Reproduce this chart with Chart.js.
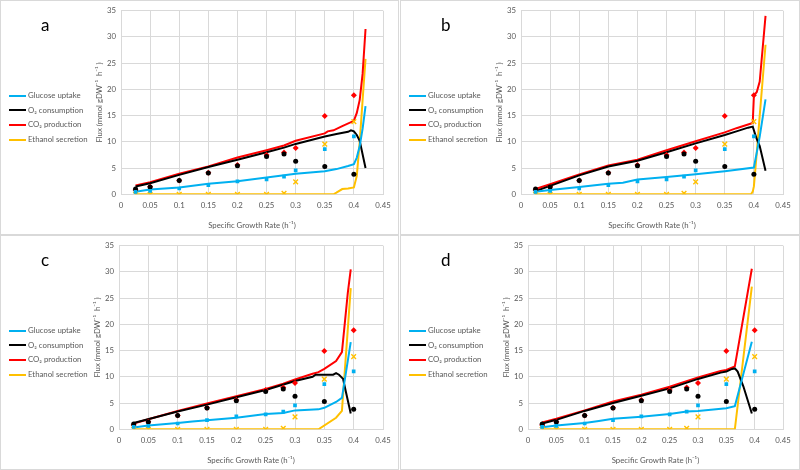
<!DOCTYPE html>
<html>
<head>
<meta charset="utf-8">
<script src="https://cdn.jsdelivr.net/npm/chart.js@4.4.1/dist/chart.umd.min.js"></script>
<style>
  html, body { margin: 0; padding: 0; background: #fff; }
  body { width: 800px; height: 470px; position: relative; overflow: hidden; font-family: Lato, "Open Sans", sans-serif; }
  .panel { position: absolute; box-sizing: border-box; border: 1px solid #d9d9d9; background: #fff; }
  .panel canvas { position: absolute; left: 0; top: 0; }
  .tag { position: absolute; left: 40px; top: 13px; font-size: 17px; color: #000; }
  .legend { position: absolute; left: 8px; font-size: 7.8px; color: #595959; }
  .legend div { position: relative; height: 14.7px; line-height: 14.7px; padding-left: 19px; white-space: nowrap; }
  .legend span { position: absolute; left: 0; top: 6.5px; width: 17px; height: 2px; }
</style>
</head>
<body>
<script>
// experimental values (same in every panel)
const expX       = [0.025, 0.05, 0.1, 0.15, 0.2, 0.25, 0.28, 0.3, 0.35, 0.4];
const expGlucose = [0.45, 0.65, 1.1, 1.75, 2.45, 2.85, 3.35, 4.55, 8.6, 11.05];
const expO2      = [1.0, 1.4, 2.65, 4.05, 5.45, 7.2, 7.7, 6.3, 5.3, 3.8];
const expCO2     = [0.8, 1.45, 2.65, 4.1, 5.6, 7.5, 7.95, 8.8, 14.9, 18.9];
const expEthanol = [0, 0, 0, 0, 0, 0, 0.2, 2.35, 9.55, 13.85];

// model curves, [growth rate, flux]
const aGlucose = [[0.025,0.5],[0.05,0.9],[0.1,1.3],[0.15,2.0],[0.2,2.5],[0.25,3.2],[0.3,3.9],[0.35,4.4],[0.37,4.8],[0.39,5.4],[0.4,5.75],[0.405,7.0],[0.41,9.2],[0.415,12.5],[0.42,16.8]];
const aO2      = [[0.025,1.5],[0.05,2.1],[0.1,3.7],[0.15,5.2],[0.2,6.6],[0.25,8.0],[0.28,8.9],[0.3,9.6],[0.35,11.0],[0.37,11.5],[0.39,11.9],[0.395,12.2],[0.4,12.0],[0.405,11.3],[0.41,10.2],[0.42,5.0]];
const aCO2     = [[0.025,1.7],[0.05,2.3],[0.1,3.9],[0.15,5.3],[0.2,7.0],[0.25,8.4],[0.28,9.3],[0.3,10.2],[0.35,11.6],[0.355,12.0],[0.365,12.2],[0.38,13.0],[0.4,14.0],[0.405,15.5],[0.41,18.0],[0.415,23.0],[0.42,31.5]];
const aEthanol = [[0.025,0],[0.365,0],[0.37,0.3],[0.38,1.0],[0.39,1.1],[0.4,1.3],[0.405,3.5],[0.41,10.0],[0.415,18.0],[0.42,25.8]];

const bGlucose = [[0.025,0.5],[0.05,0.8],[0.1,1.4],[0.15,2.0],[0.175,2.2],[0.2,2.8],[0.25,3.3],[0.3,3.8],[0.35,4.4],[0.4,5.1],[0.405,8.0],[0.41,11.0],[0.42,18.1]];
const bO2      = [[0.025,0.6],[0.05,1.6],[0.1,3.6],[0.15,5.3],[0.2,6.4],[0.25,8.0],[0.3,9.7],[0.35,11.3],[0.37,12.0],[0.39,12.7],[0.398,12.9],[0.4,12.2],[0.405,10.5],[0.41,9.2],[0.42,4.5]];
const bCO2     = [[0.025,1.0],[0.05,1.9],[0.1,3.8],[0.15,5.5],[0.2,6.6],[0.25,8.4],[0.3,10.1],[0.35,11.8],[0.37,12.6],[0.39,13.3],[0.398,13.6],[0.4,18.8],[0.405,19.5],[0.41,21.5],[0.42,34.0]];
const bEthanol = [[0.025,0],[0.395,0],[0.398,0.5],[0.4,1.5],[0.405,8.0],[0.41,15.0],[0.42,28.5]];

const cGlucose = [[0.025,0.35],[0.05,0.7],[0.1,1.2],[0.125,1.5],[0.15,1.7],[0.2,2.2],[0.25,2.9],[0.28,3.1],[0.3,3.6],[0.34,3.8],[0.35,4.1],[0.37,5.2],[0.38,6.0],[0.395,16.6]];
const cO2      = [[0.025,1.2],[0.1,3.4],[0.15,4.7],[0.2,6.1],[0.25,7.5],[0.3,9.2],[0.33,10.0],[0.335,10.4],[0.365,10.4],[0.37,10.7],[0.375,10.4],[0.382,9.6],[0.387,7.0],[0.395,3.0]];
const cCO2     = [[0.025,1.1],[0.05,1.9],[0.1,3.5],[0.15,4.9],[0.2,6.3],[0.25,7.7],[0.28,8.7],[0.3,9.5],[0.33,10.6],[0.34,10.9],[0.35,11.5],[0.37,13.0],[0.38,14.7],[0.39,26.0],[0.395,30.5]];
const cEthanol = [[0.025,0],[0.34,0],[0.37,2.2],[0.38,3.5],[0.395,26.9]];

const dGlucose = [[0.025,0.4],[0.05,0.7],[0.1,1.2],[0.125,1.6],[0.15,2.0],[0.2,2.4],[0.25,2.9],[0.28,3.4],[0.3,3.5],[0.35,4.0],[0.365,4.4],[0.395,16.7]];
const dO2      = [[0.025,1.1],[0.05,1.8],[0.1,3.5],[0.15,5.0],[0.2,6.4],[0.25,7.8],[0.3,9.6],[0.34,10.8],[0.35,11.0],[0.36,11.5],[0.365,11.6],[0.37,11.0],[0.38,8.2],[0.395,3.0]];
const dCO2     = [[0.025,1.3],[0.05,2.0],[0.1,3.6],[0.15,5.3],[0.2,6.6],[0.25,8.1],[0.3,9.9],[0.34,11.1],[0.35,11.3],[0.365,12.0],[0.395,30.6]];
const dEthanol = [[0.025,0],[0.365,0],[0.395,27.2]];

const xTicks = [0, 0.05, 0.1, 0.15, 0.2, 0.25, 0.3, 0.35, 0.4, 0.45];
const legendNames = ['Glucose uptake', 'O\u2082 consumption', 'CO\u2082 production', 'Ethanol secretion'];
const colors = ['#00b0f0', '#000000', '#ff0000', '#ffc000'];

const panels = [
    { tag: 'a', left: 0,   top: 0,   w: 399, plotLeft: 121, lines: [aGlucose, aO2, aCO2, aEthanol] },
    { tag: 'b', left: 400, top: 0,   w: 400, plotLeft: 121, lines: [bGlucose, bO2, bCO2, bEthanol] },
    { tag: 'c', left: 0,   top: 235, w: 399, plotLeft: 119, lines: [cGlucose, cO2, cCO2, cEthanol] },
    { tag: 'd', left: 400, top: 235, w: 400, plotLeft: 128, lines: [dGlucose, dO2, dCO2, dEthanol] }
];

const tickColor = '#595959';
const gridColor = '#d9d9d9';
const fontFamily = 'Lato, "Open Sans", sans-serif';
const fontSize = 7.8;

function pts(xs, ys) {
    return xs.map((x, i) => ({ x: x, y: ys[i] }));
}

function buildPanel(p) {
    const H = 235;
    const div = document.createElement('div');
    div.className = 'panel';
    div.style.left = p.left + 'px';
    div.style.top = p.top + 'px';
    div.style.width = p.w + 'px';
    div.style.height = H + 'px';
    document.body.appendChild(div);

    const canvas = document.createElement('canvas');
    canvas.width = p.w - 2;
    canvas.height = H - 2;
    canvas.style.width = (p.w - 2) + 'px';
    canvas.style.height = (H - 2) + 'px';
    div.appendChild(canvas);

    const tag = document.createElement('div');
    tag.className = 'tag';
    tag.textContent = p.tag;
    div.appendChild(tag);

    const leg = document.createElement('div');
    leg.className = 'legend';
    leg.style.top = '87px';
    legendNames.forEach((name, i) => {
        const row = document.createElement('div');
        row.innerHTML = '<span style="background:' + colors[i] + '"></span>' + name;
        leg.appendChild(row);
    });
    div.appendChild(leg);

    const yWidth = 26;
    const markers = [
        { data: pts(expX, expGlucose), pointStyle: 'rect', pointRadius: 2.6, c: colors[0] },
        { data: pts(expX, expO2), pointStyle: 'circle', pointRadius: 2.5, c: colors[1] },
        { data: pts(expX, expCO2), pointStyle: 'rectRot', pointRadius: 3.0, c: colors[2] },
        { data: pts(expX, expEthanol), pointStyle: 'crossRot', pointRadius: 3.3, c: colors[3] }
    ].map(m => ({
        type: 'scatter',
        data: m.data,
        showLine: false,
        pointStyle: m.pointStyle,
        pointRadius: m.pointRadius,
        pointBackgroundColor: m.c,
        pointBorderColor: m.c,
        pointBorderWidth: m.pointStyle === 'crossRot' ? 1.4 : 0,
        order: 1
    }));

    const lines = p.lines.map((arr, i) => ({
        type: 'line',
        data: arr.map(v => ({ x: v[0], y: v[1] })),
        borderColor: colors[i],
        borderWidth: 2,
        pointRadius: 0,
        tension: 0,
        fill: false,
        order: 2
    }));

    new Chart(canvas.getContext('2d'), {
        type: 'scatter',
        data: { datasets: markers.concat(lines) },
        options: {
            responsive: false,
            animation: false,
            events: [],
            layout: { padding: { left: p.plotLeft - yWidth - 1, right: p.w - 2 - (383 - 1), top: 9, bottom: 4 } },
            plugins: { legend: { display: false }, tooltip: { enabled: false } },
            scales: {
                x: {
                    type: 'linear',
                    min: 0,
                    max: 0.45,
                    afterBuildTicks: s => { s.ticks = xTicks.map(v => ({ value: v })); },
                    ticks: { color: tickColor, font: { size: fontSize, family: fontFamily }, padding: 7,
                             callback: v => String(v) },
                    grid: { color: gridColor, drawTicks: false },
                    border: { color: gridColor },
                    title: { display: true, text: 'Specific Growth Rate (h\u207B\u00B9)', color: tickColor,
                             font: { size: fontSize, family: fontFamily }, padding: { top: 3, bottom: 0 } }
                },
                y: {
                    min: 0,
                    max: 35,
                    ticks: { stepSize: 5, color: tickColor, font: { size: fontSize, family: fontFamily }, padding: 5 },
                    grid: { color: gridColor, drawTicks: false },
                    border: { color: gridColor },
                    afterFit: s => { s.width = yWidth; },
                    title: { display: true, text: 'Flux (mmol gDW\u207B\u00B9  h\u207B\u00B9 )', color: tickColor,
                             font: { size: fontSize, family: fontFamily }, padding: { top: 0, bottom: 2 } }
                }
            }
        }
    });
}

panels.forEach(buildPanel);
</script>
</body>
</html>
